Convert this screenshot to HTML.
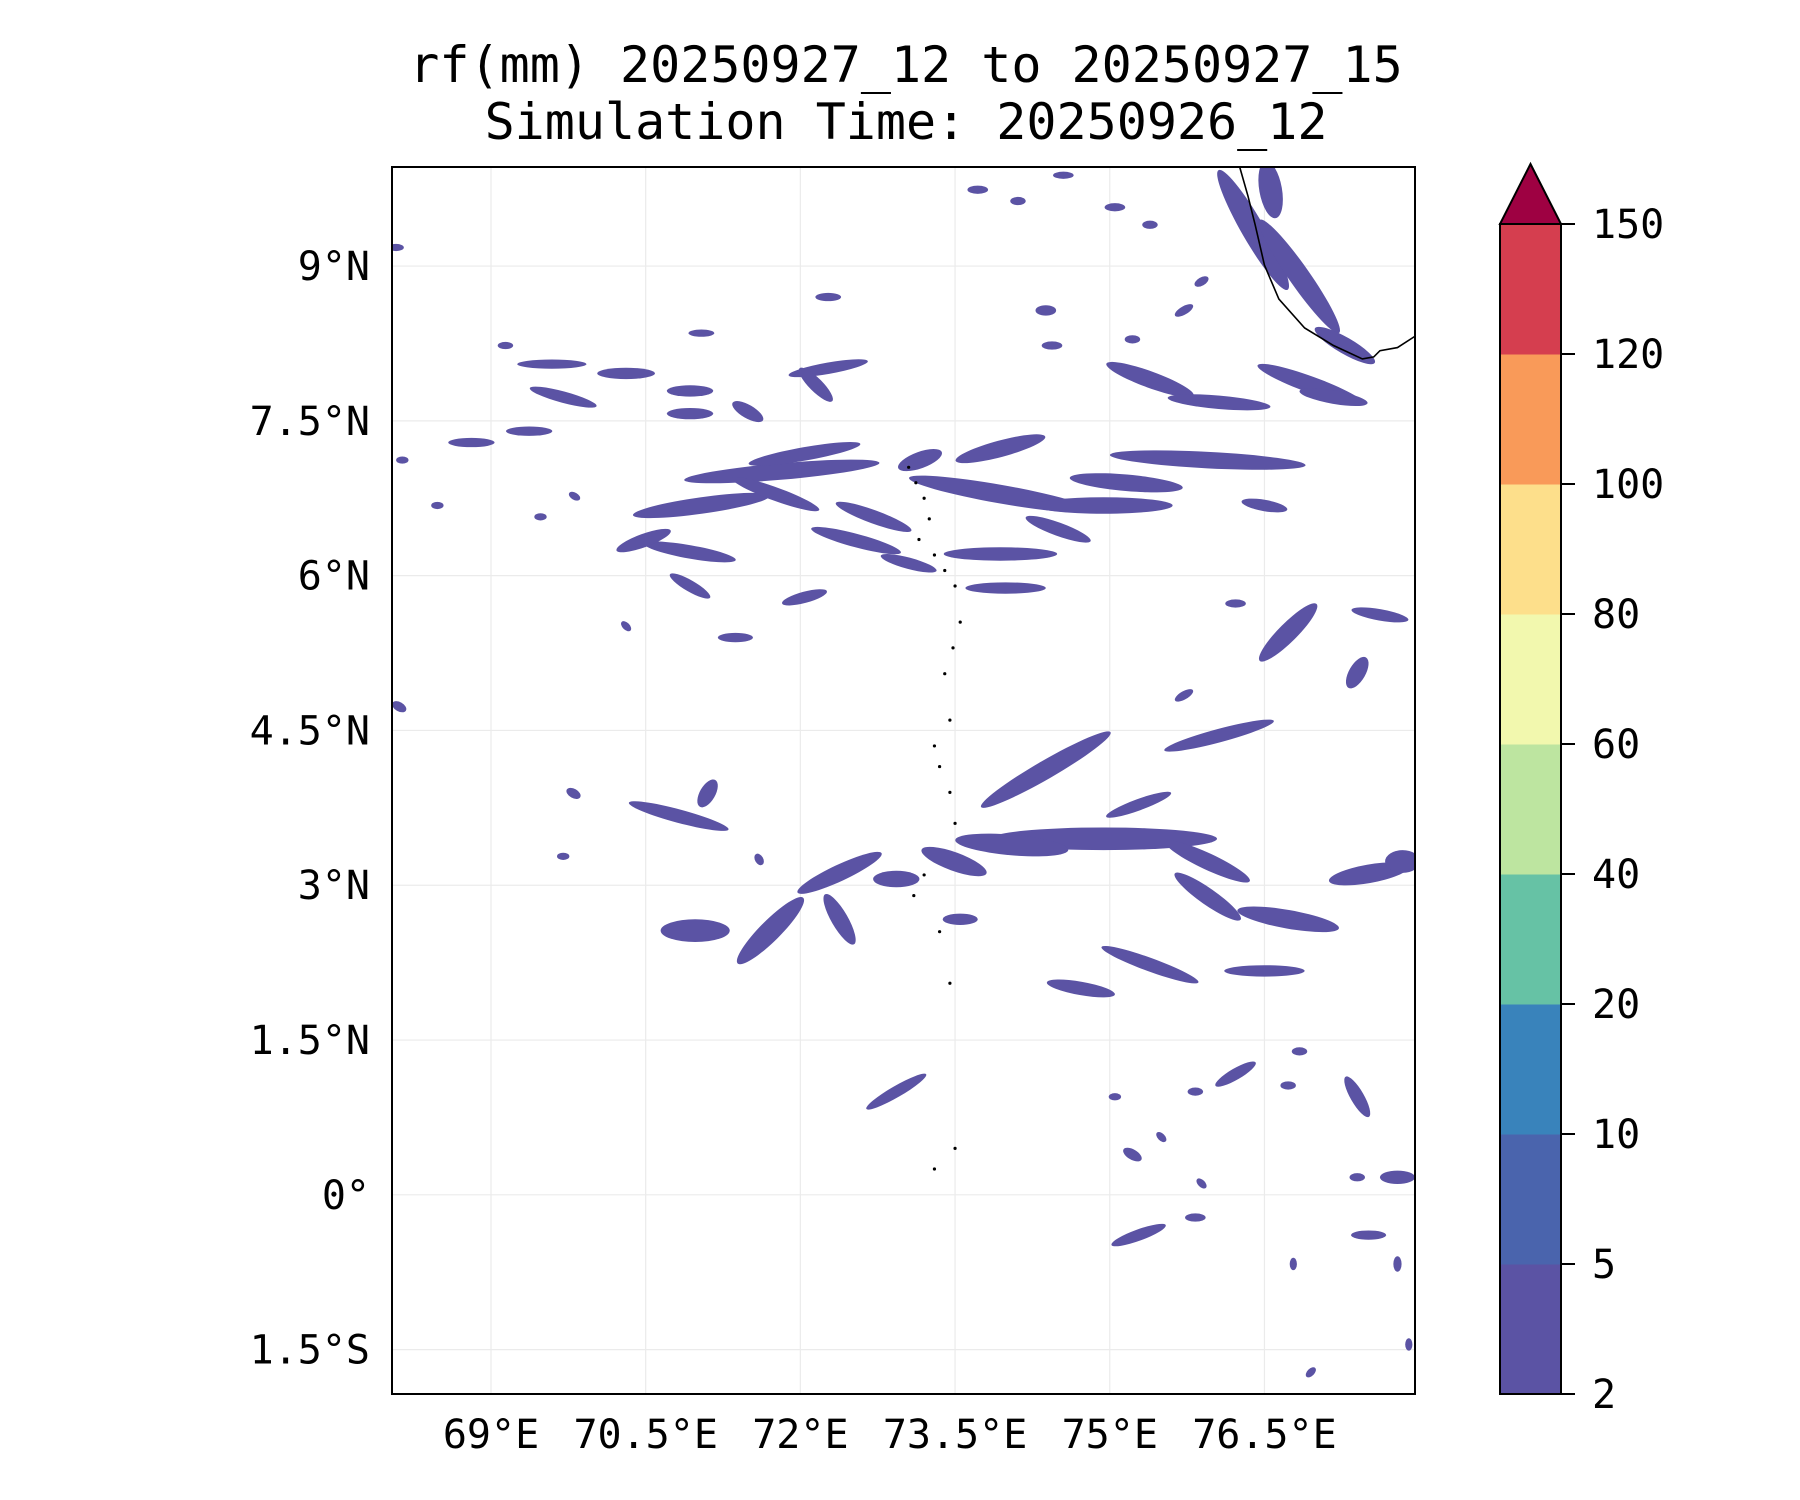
<!DOCTYPE html>
<html><head><meta charset="utf-8">
<style>
html,body{margin:0;padding:0;background:#fff;}
svg{display:block;font-family:"DejaVu Sans Mono","Liberation Mono",monospace;}
</style></head>
<body>
<svg id="chart" width="1800" height="1500" viewBox="0 0 1800 1500" xmlns="http://www.w3.org/2000/svg">
<text x="906" y="82" font-size="50" text-anchor="middle">rf(mm) 20250927_12 to 20250927_15</text>
<text x="906" y="139" font-size="50" text-anchor="middle">Simulation Time: 20250926_12</text>
<g id="grid"></g>
<g id="blobs"></g>
<g id="coast"></g>
<rect x="392" y="167" width="1023" height="1227" fill="none" stroke="#000" stroke-width="2"/>
<g id="axes"></g>
<g id="cbar"></g>
</svg>
<script>
const lonTicks=[69,70.5,72,73.5,75,76.5];
const lonLabels=["69°E","70.5°E","72°E","73.5°E","75°E","76.5°E"];
const latTicks=[9,7.5,6,4.5,3,1.5,0,-1.5];
const latLabels=["9°N","7.5°N","6°N","4.5°N","3°N","1.5°N","0°","1.5°S"];
const cbLevels=[2,5,10,20,40,60,80,100,120,150];
const cbColors=["#5b53a4","#4a64ad","#3983bb","#66c2a5","#bde5a0","#f2f8ae","#fddf8b","#f99a59","#d53e4f"];
const extendColor="#9e0142";
// rain blobs: center lon, lat, length(deg), width(deg), angle(deg)
const blobLon=[71.82,71.04,72.04,73.94,74.94,75.95,73.94,75.39,76.06,76.95,76.39,76.84,77.28,76.56,73.94,73.99,70.93,70.48,72.54,73.05,76.73,77.62,77.40,74.38,76.06,75.28,74.94,74.05,75.95,76.73,75.95,77.51,77.84,70.82,70.98,71.71,72.38,72.93,72.38,73.49,73.55,75.39,74.72,76.50,72.93,77.40,76.22,75.28,77.79,77.51,69.59,70.31,70.93,72.27,72.15,69.70,71.49,70.93,69.37,68.81,75.16,76.50,74.50,71.76,72.04,70.93,71.37,77.17,74.38,75.22,73.16,72.71,
68.08,68.14,68.11,69.80,71.10,71.60,76.84,75.83,76.78,77.79,76.95,77.90,75.72,76.22,75.89,75.72,75.22,74.44,73.72,74.11,75.05,75.39,74.55,72.27,71.04,69.14,69.81,69.48,68.48,70.31,69.70,75.05,75.83,76.73,75.89,77.40,75.50];
const blobLat=[7.01,6.68,7.18,6.79,6.68,7.12,7.23,7.90,7.68,7.85,9.35,8.90,8.23,9.74,6.21,5.88,6.23,6.34,6.34,6.12,5.45,5.62,5.06,4.12,4.45,3.78,3.45,3.39,3.23,2.67,2.89,3.11,3.23,3.67,2.56,2.56,3.12,3.06,2.67,3.23,2.67,2.23,2.00,2.17,1.00,0.95,1.17,-0.39,0.17,-0.39,8.05,7.96,7.79,8.01,7.85,7.73,7.59,7.57,7.40,7.29,6.90,6.68,6.45,6.79,5.79,5.90,5.40,7.73,8.57,0.39,7.12,6.57,
9.18,7.12,4.73,3.89,3.89,3.25,1.39,-0.22,-0.67,-0.67,-1.72,-1.45,4.84,5.73,8.85,8.57,8.29,8.23,9.74,9.63,9.57,9.40,9.88,8.70,8.35,8.23,6.77,6.57,6.68,5.51,3.28,0.95,1.00,1.06,0.11,0.17,0.56];
const blobLen=[1.9,1.34,1.1,1.8,1.34,1.9,0.9,0.9,1.0,1.1,1.34,1.34,0.67,0.56,1.1,0.78,0.9,0.56,0.9,0.56,0.78,0.56,0.34,1.45,1.1,0.67,2.2,1.1,0.9,1.0,0.78,0.78,0.34,1.0,0.67,0.9,0.9,0.45,0.56,0.67,0.34,1.0,0.67,0.78,0.67,0.45,0.45,0.56,0.34,0.34,0.67,0.56,0.45,0.78,0.45,0.67,0.34,0.45,0.45,0.45,1.1,0.45,0.67,0.9,0.45,0.45,0.34,0.67,0.2,0.2,0.45,0.78,
0.15,0.12,0.15,0.15,0.3,0.12,0.15,0.2,0.12,0.15,0.12,0.12,0.2,0.2,0.15,0.2,0.15,0.2,0.2,0.15,0.2,0.15,0.2,0.25,0.25,0.15,0.12,0.12,0.12,0.12,0.12,0.12,0.15,0.15,0.12,0.15,0.12];
const blobWid=[0.16,0.16,0.13,0.18,0.16,0.16,0.16,0.16,0.13,0.16,0.22,0.2,0.16,0.22,0.13,0.11,0.13,0.13,0.13,0.11,0.18,0.11,0.16,0.18,0.13,0.11,0.22,0.2,0.16,0.18,0.16,0.18,0.22,0.13,0.22,0.2,0.16,0.16,0.16,0.18,0.11,0.13,0.13,0.11,0.11,0.13,0.11,0.11,0.13,0.09,0.09,0.11,0.11,0.11,0.13,0.11,0.13,0.11,0.09,0.09,0.16,0.11,0.13,0.13,0.11,0.11,0.09,0.13,0.1,0.1,0.16,0.13,
0.07,0.07,0.09,0.09,0.15,0.08,0.08,0.08,0.07,0.08,0.07,0.07,0.08,0.08,0.08,0.08,0.08,0.08,0.08,0.08,0.08,0.08,0.07,0.08,0.07,0.07,0.07,0.07,0.07,0.07,0.07,0.07,0.08,0.08,0.07,0.08,0.07];
const blobAng=[-5,-8,-10,10,0,3,-15,20,5,20,60,55,30,80,0,0,10,-20,15,15,-45,10,-60,-30,-15,-20,0,5,25,10,35,-10,0,15,0,-45,-25,0,60,20,0,20,10,0,-30,60,-30,-20,0,0,0,0,0,-10,45,15,30,0,0,0,5,10,20,20,-15,30,0,10,0,30,-20,20,
0,0,30,30,-60,60,0,0,90,90,-45,90,-30,0,-30,-30,0,0,0,0,0,0,0,0,0,0,30,0,0,45,0,0,0,0,45,0,45];
const coastLon=[76.26,76.34,76.41,76.50,76.64,76.89,77.17,77.45,77.56,77.62,77.79,77.96];
const coastLat=[9.96,9.68,9.40,9.01,8.68,8.40,8.23,8.10,8.12,8.18,8.21,8.32];
const islandLon=[73.05,73.12,73.20,73.25,73.15,73.30,73.40,73.50,73.55,73.48,73.40,73.45,73.30,73.35,73.45,73.50,73.20,73.10,73.35,73.45,73.50,73.30];
const islandLat=[7.05,6.90,6.75,6.55,6.35,6.20,6.05,5.90,5.55,5.30,5.05,4.60,4.35,4.15,3.90,3.60,3.10,2.90,2.55,2.05,0.45,0.25];

const NS="http://www.w3.org/2000/svg";
const X0=392,X1=1415,Y0=167,Y1=1394,LON0=68.04,LON1=77.96,LAT0=-1.93,LAT1=9.96;
const xs=l=>X0+(l-LON0)/(LON1-LON0)*(X1-X0);
const ys=l=>Y0+(LAT1-l)/(LAT1-LAT0)*(Y1-Y0);
const pxDeg=(X1-X0)/(LON1-LON0);
function mk(tag,attrs,parent){const e=document.createElementNS(NS,tag);for(const k in attrs)e.setAttribute(k,attrs[k]);parent.appendChild(e);return e;}
const grid=document.getElementById('grid'),axes=document.getElementById('axes');
lonTicks.forEach((t,i)=>{
  const g=mk('line',{x1:xs(t),x2:xs(t),y1:Y0,y2:Y1,stroke:'#ebebeb','stroke-width':1.2},grid);
  
  
  const tx=mk('text',{x:xs(t),y:1448,'font-size':40,'text-anchor':'middle'},axes);
  tx.textContent=lonLabels[i];
  
  
});
latTicks.forEach((t,i)=>{
  const g=mk('line',{x1:X0,x2:X1,y1:ys(t),y2:ys(t),stroke:'#ebebeb','stroke-width':1.2},grid);
  
  
  const tx=mk('text',{x:370,y:ys(t)+14,'font-size':40,'text-anchor':'end'},axes);
  tx.textContent=latLabels[i];
  
  
});
const blobs=document.getElementById('blobs');
const cpath=mk('clipPath',{id:'clip'},blobs);
mk('rect',{x:X0,y:Y0,width:X1-X0,height:Y1-Y0},cpath);
blobs.setAttribute('clip-path','url(#clip)');
for(let i=0;i<blobLon.length;i++){
  const cx=xs(blobLon[i]),cy=ys(blobLat[i]);
  const e=mk('ellipse',{cx:cx,cy:cy,rx:blobLen[i]*pxDeg/2,ry:blobWid[i]*pxDeg/2,fill:cbColors[0],transform:`rotate(${blobAng[i]} ${cx} ${cy})`},blobs);
  
  
}
const coast=document.getElementById('coast');
const cp=mk('polyline',{points:coastLon.map((l,i)=>xs(l)+','+ys(coastLat[i])).join(' '),fill:'none',stroke:'#000','stroke-width':1.6},coast);


islandLon.forEach((l,i)=>{
  const d=mk('circle',{cx:xs(l),cy:ys(islandLat[i]),r:1.6,fill:'#000'},coast);
  
  
});
const cb=document.getElementById('cbar');
const CX0=1500,CX1=1561,CT=224,CB=1394,step=(CB-CT)/(cbLevels.length-1);
cbColors.forEach((c,i)=>{
  const r=mk('rect',{x:CX0,y:CB-(i+1)*step,width:CX1-CX0,height:step+0.5,fill:c},cb);
  
  
});
const tri=mk('polygon',{points:`${CX0},${CT} ${CX1},${CT} ${(CX0+CX1)/2},164`,fill:extendColor,stroke:'#000','stroke-width':2},cb);


const fr=mk('rect',{x:CX0,y:CT,width:CX1-CX0,height:CB-CT,fill:'none',stroke:'#000','stroke-width':2},cb);


cbLevels.forEach((v,i)=>{
  const y=CB-i*step;
  mk('line',{x1:CX1,x2:CX1+14,y1:y,y2:y,stroke:'#000','stroke-width':2},cb);
  const t=mk('text',{x:1592,y:y+14,'font-size':40},cb);
  t.textContent=v;
  
  
});
</script>
</body></html>
